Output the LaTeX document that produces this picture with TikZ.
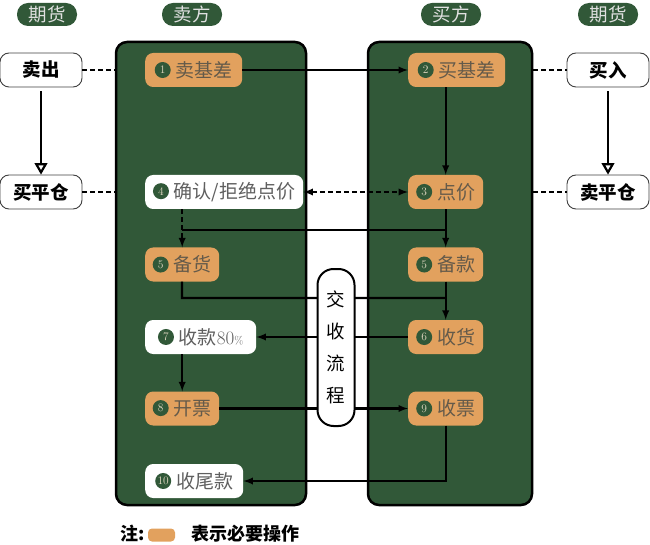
\documentclass[tikz,border=0pt]{standalone}
\usepackage{fontspec}
\newfontfamily\cjk{Noto Sans CJK SC}
\usepackage{tikz}
\usetikzlibrary{arrows}

\definecolor{panelgreen}{RGB}{49,88,56}
\definecolor{steporange}{RGB}{226,161,94}
\definecolor{steptext}{RGB}{100,90,74}
\definecolor{graytext}{RGB}{95,95,95}
\definecolor{numtext}{RGB}{228,218,196}

\newcommand{\stepno}[1]{\tikz[baseline=-0.7ex]\node[circle,fill=panelgreen,text=numtext,inner sep=0pt,minimum size=16pt,font=\rmfamily\fontsize{11.5}{11.5}\selectfont]{#1};\hspace{5pt}}

\begin{document}
\begin{tikzpicture}[x=1pt,y=-1pt,
	head/.style={rectangle,rounded corners=11pt,fill=panelgreen,text=white!88!black,minimum width=60pt,minimum height=23pt,inner sep=0pt,font=\cjk\fontsize{18.5}{18.5}\selectfont},
	panel/.style={rectangle,rounded corners=11pt,draw=black,line width=2.5pt,fill=panelgreen},
	fut/.style={rectangle,rounded corners=9pt,draw=black!75,line width=0.9pt,fill=white,minimum width=82pt,minimum height=34pt,inner sep=0pt,font=\cjk\bfseries\fontsize{18.5}{18.5}\selectfont},
	must/.style={rectangle,rounded corners=8pt,fill=steporange,text=steptext,minimum height=34pt,inner xsep=6pt,anchor=west,font=\cjk\fontsize{19}{19}\selectfont},
	opt/.style={must,fill=white,text=graytext},
	link/.style={line width=2.2pt},
	dashlink/.style={link,dash pattern=on 5pt off 3pt}]
	\useasboundingbox (0,0) rectangle (650,545);
%	\draw[help lines,step=50] (0,0) grid (650,545);
	\path (182,230) coordinate (split);
	\path (182,298) coordinate (deliver);

	% column heads
	\path (47,14.5) node(futleft) [head] {期货};
	\path (192,14.5) node(sellhead) [head] {卖方};
	\path (451,14.5) node(buyhead) [head] {买方};
	\path (608,14.5) node(futright) [head] {期货};

	% panels
	\path (211,273.5) node(seller) [panel,minimum width=190,minimum height=463] {};
	\path (450,273.5) node(buyer) [panel,minimum width=164,minimum height=463] {};

	% futures side
	\path (41,70) node(sell) [fut] {卖出};
	\path (41,192) node(closebuy) [fut] {买平仓};
	\path (608,70) node(buy) [fut] {买入};
	\path (608,192) node(closesell) [fut] {卖平仓};

	% seller steps
	\path (145,70) node(s1) [must,minimum width=97] {\stepno{1}卖基差};
	\path (145,192) node(s4) [opt,minimum width=158] {\stepno{4}确认/拒绝点价};
	\path (145,264.5) node(s5) [must,minimum width=74] {\stepno{5}备货};
	\path (145,337) node(s7) [opt,minimum width=111] {\stepno{7}收款{\rmfamily\fontsize{19}{19}\selectfont 80{\fontsize{11}{11}\selectfont\%}}};
	\path (145,408.5) node(s8) [must,minimum width=74] {\stepno{8}开票};
	\path (145,481) node(s10) [opt,minimum width=98] {\stepno{10}收尾款};

	% buyer steps
	\path (408,70) node(b2) [must,minimum width=97] {\stepno{2}买基差};
	\path (408,192) node(b3) [must,minimum width=75] {\stepno{3}点价};
	\path (408,264.5) node(b5) [must,minimum width=75] {\stepno{5}备款};
	\path (408,337) node(b6) [must,minimum width=75] {\stepno{6}收货};
	\path (408,408.5) node(b9) [must,minimum width=75] {\stepno{9}收票};

	% futures links
	\draw[dashlink] (sell) -- (sell -| seller.west);
	\draw[dashlink] (closebuy) -- (closebuy -| seller.west);
	\draw[dashlink] (buy -| buyer.east) -- (buy);
	\draw[dashlink] (closesell -| buyer.east) -- (closesell);
	\draw[link,-open triangle 60,shorten <=4pt] (sell) -- (closebuy);
	\draw[link,-open triangle 60,shorten <=4pt] (buy) -- (closesell);

	% basis trade and pricing
	\draw[link,-latex] (s1) -- (b2);
	\draw[link,-latex] (b3 |- b2.south) -- (b3);
	\draw[dashlink,latex-latex] (s4) -- (b3);
	\draw[dashlink,-latex] (s4.south -| s5) -- (s5);
	\draw[link] (split) -- (split -| b5);
	\draw[link,-latex] (b3) -- (b5);

	% delivery
	\draw[link] (s5) -- (deliver) -- (deliver -| b6);
	\draw[link,-latex] (b5) -- (b6);
	\draw[link,-latex] (b6) -- (s7);
	\draw[link,-latex] (s7.south -| s8) -- (s8);
	\draw[link,-latex] (s8) -- (b9);
	\draw[link,-latex] (b9) |- (s10);

	\path (336,347.5) node(flow) [rectangle,rounded corners=16pt,draw,line width=2pt,fill=white,minimum width=37,minimum height=157,inner sep=0pt,align=center,font=\cjk\fontsize{18.5}{32}\selectfont] {交\\收\\流\\程};

	% legend
	\path (117,534) node(note) [anchor=west,font=\cjk\bfseries\fontsize{18}{18}\selectfont] {注:};
	\path (161.5,535) node(key) [rectangle,rounded corners=4pt,fill=steporange,minimum width=27,minimum height=13,inner sep=0pt] {};
	\path (188,534) node(keytext) [anchor=west,font=\cjk\bfseries\fontsize{18}{18}\selectfont] {表示必要操作};
\end{tikzpicture}
\end{document}
